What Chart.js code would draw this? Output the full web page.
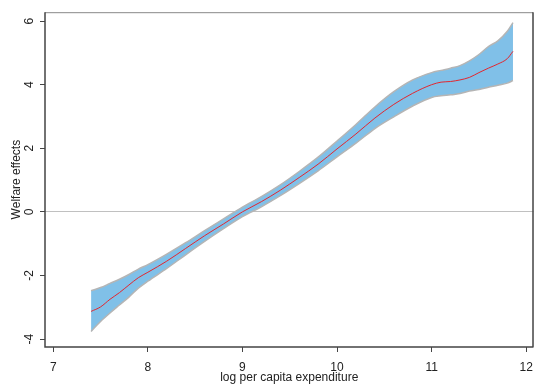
<!DOCTYPE html>
<html>
<head>
<meta charset="utf-8">
<script src="https://cdn.jsdelivr.net/npm/chart.js@4.4.0/dist/chart.umd.min.js"></script>
<style>
  html, body { margin: 0; padding: 0; background: #fff; }
  #wrap { width: 541px; height: 392px; }
</style>
</head>
<body>
<div id="wrap"><canvas id="welfareChart" width="541" height="392"></canvas></div>
<script>
// valores
const logExp = [7.40, 7.50, 7.60, 7.70, 7.80, 7.90, 8.00, 8.20, 8.40, 8.60, 8.80, 9.00, 9.20, 9.40, 9.60, 9.80,
                10.0, 10.2, 10.4, 10.6, 10.8, 11.0, 11.1, 11.2, 11.3, 11.4, 11.5, 11.6, 11.7, 11.8, 11.86];
const welfare = [-3.13, -2.99, -2.75, -2.54, -2.30, -2.07, -1.90, -1.55, -1.15, -0.75, -0.38, 0.00, 0.32, 0.68, 1.08, 1.50,
                 1.98, 2.45, 2.95, 3.38, 3.73, 4.00, 4.08, 4.10, 4.15, 4.23, 4.38, 4.52, 4.65, 4.82, 5.05];
const ciUpper = [-2.48, -2.38, -2.25, -2.12, -1.97, -1.80, -1.66, -1.33, -0.97, -0.59, -0.22, 0.15, 0.48, 0.85, 1.27, 1.72,
                 2.23, 2.75, 3.30, 3.78, 4.15, 4.38, 4.45, 4.52, 4.60, 4.75, 4.95, 5.20, 5.38, 5.68, 5.95];
const ciLower = [-3.76, -3.45, -3.18, -2.93, -2.68, -2.40, -2.18, -1.78, -1.35, -0.93, -0.53, -0.15, 0.16, 0.51, 0.89, 1.29,
                 1.73, 2.16, 2.62, 2.99, 3.33, 3.60, 3.65, 3.68, 3.72, 3.80, 3.85, 3.92, 3.98, 4.05, 4.13];
const xTicks = [7, 8, 9, 10, 11, 12];
const yTicks = [-4, -2, 0, 2, 4, 6];

const puntos = (ys) => logExp.map((x, i) => ({ x: x, y: ys[i] }));

// marco completo alrededor del area del grafico
const marco = {
    id: 'marco',
    afterDraw(chart) {
        const { ctx, chartArea: a } = chart;
        ctx.save();
        ctx.lineWidth = 1;
        ctx.strokeStyle = '#888';
        ctx.beginPath();
        ctx.moveTo(a.left, a.top + 0.5);
        ctx.lineTo(a.right - 0.5, a.top + 0.5);
        ctx.stroke();
        ctx.strokeStyle = '#444';
        ctx.lineWidth = 1.5;
        ctx.beginPath();
        ctx.moveTo(a.right - 0.5, a.top);
        ctx.lineTo(a.right - 0.5, a.bottom);
        ctx.moveTo(a.left, a.top);
        ctx.lineTo(a.left, a.bottom);
        ctx.lineTo(a.right, a.bottom);
        ctx.stroke();
        ctx.restore();
    }
};

const fuente = { family: '"Liberation Sans", Arial, sans-serif', size: 12 };

new Chart(document.getElementById('welfareChart').getContext('2d'), {
    type: 'line',
    data: {
        datasets: [
            {
                label: 'upper',
                data: puntos(ciUpper),
                borderColor: '#b5b5b5',
                borderWidth: 1.5,
                backgroundColor: '#80c0e8',
                fill: '+1',
                pointRadius: 0,
                order: 2,
                cubicInterpolationMode: 'monotone'
            },
            {
                label: 'lower',
                data: puntos(ciLower),
                borderColor: '#b5b5b5',
                borderWidth: 1.5,
                fill: false,
                pointRadius: 0,
                order: 1,
                cubicInterpolationMode: 'monotone'
            },
            {
                label: 'Welfare effects',
                data: puntos(welfare),
                borderColor: '#e3262e',
                borderWidth: 1,
                fill: false,
                pointRadius: 0,
                order: 0,
                cubicInterpolationMode: 'monotone'
            }
        ]
    },
    options: {
        responsive: false,
        animation: false,
        layout: { padding: { left: 0, right: 7, top: 11, bottom: 0 } },
        plugins: {
            legend: { display: false },
            tooltip: { enabled: false }
        },
        scales: {
            x: {
                type: 'linear',
                min: 6.913,
                max: 12.077,
                afterBuildTicks: (s) => { s.ticks = xTicks.map(v => ({ value: v })); },
                afterFit: (s) => { s.height = 45; },
                border: { display: false },
                grid: { drawOnChartArea: false, tickLength: 5, tickColor: '#444' },
                ticks: { color: '#222', font: fuente, padding: 8, maxRotation: 0 },
                title: {
                    display: true,
                    text: 'log per capita expenditure',
                    color: '#222',
                    font: fuente,
                    padding: { top: 0, bottom: 7 }
                }
            },
            y: {
                type: 'linear',
                min: -4.25,
                max: 6.28,
                afterBuildTicks: (s) => { s.ticks = yTicks.map(v => ({ value: v })); },
                afterFit: (s) => { s.width = 45; },
                border: { display: false },
                grid: {
                    color: (c) => (c.tick && c.tick.value === 0 ? '#c0c0c0' : 'rgba(0,0,0,0)'),
                    lineWidth: 1,
                    tickLength: 5,
                    tickColor: '#444'
                },
                ticks: {
                    color: '#222',
                    font: fuente,
                    minRotation: 90,
                    maxRotation: 90,
                    crossAlign: 'center',
                    padding: 5
                },
                title: {
                    display: true,
                    text: 'Welfare effects',
                    color: '#222',
                    font: fuente,
                    padding: { top: 9, bottom: 0 }
                }
            }
        }
    },
    plugins: [marco]
});
</script>
</body>
</html>
